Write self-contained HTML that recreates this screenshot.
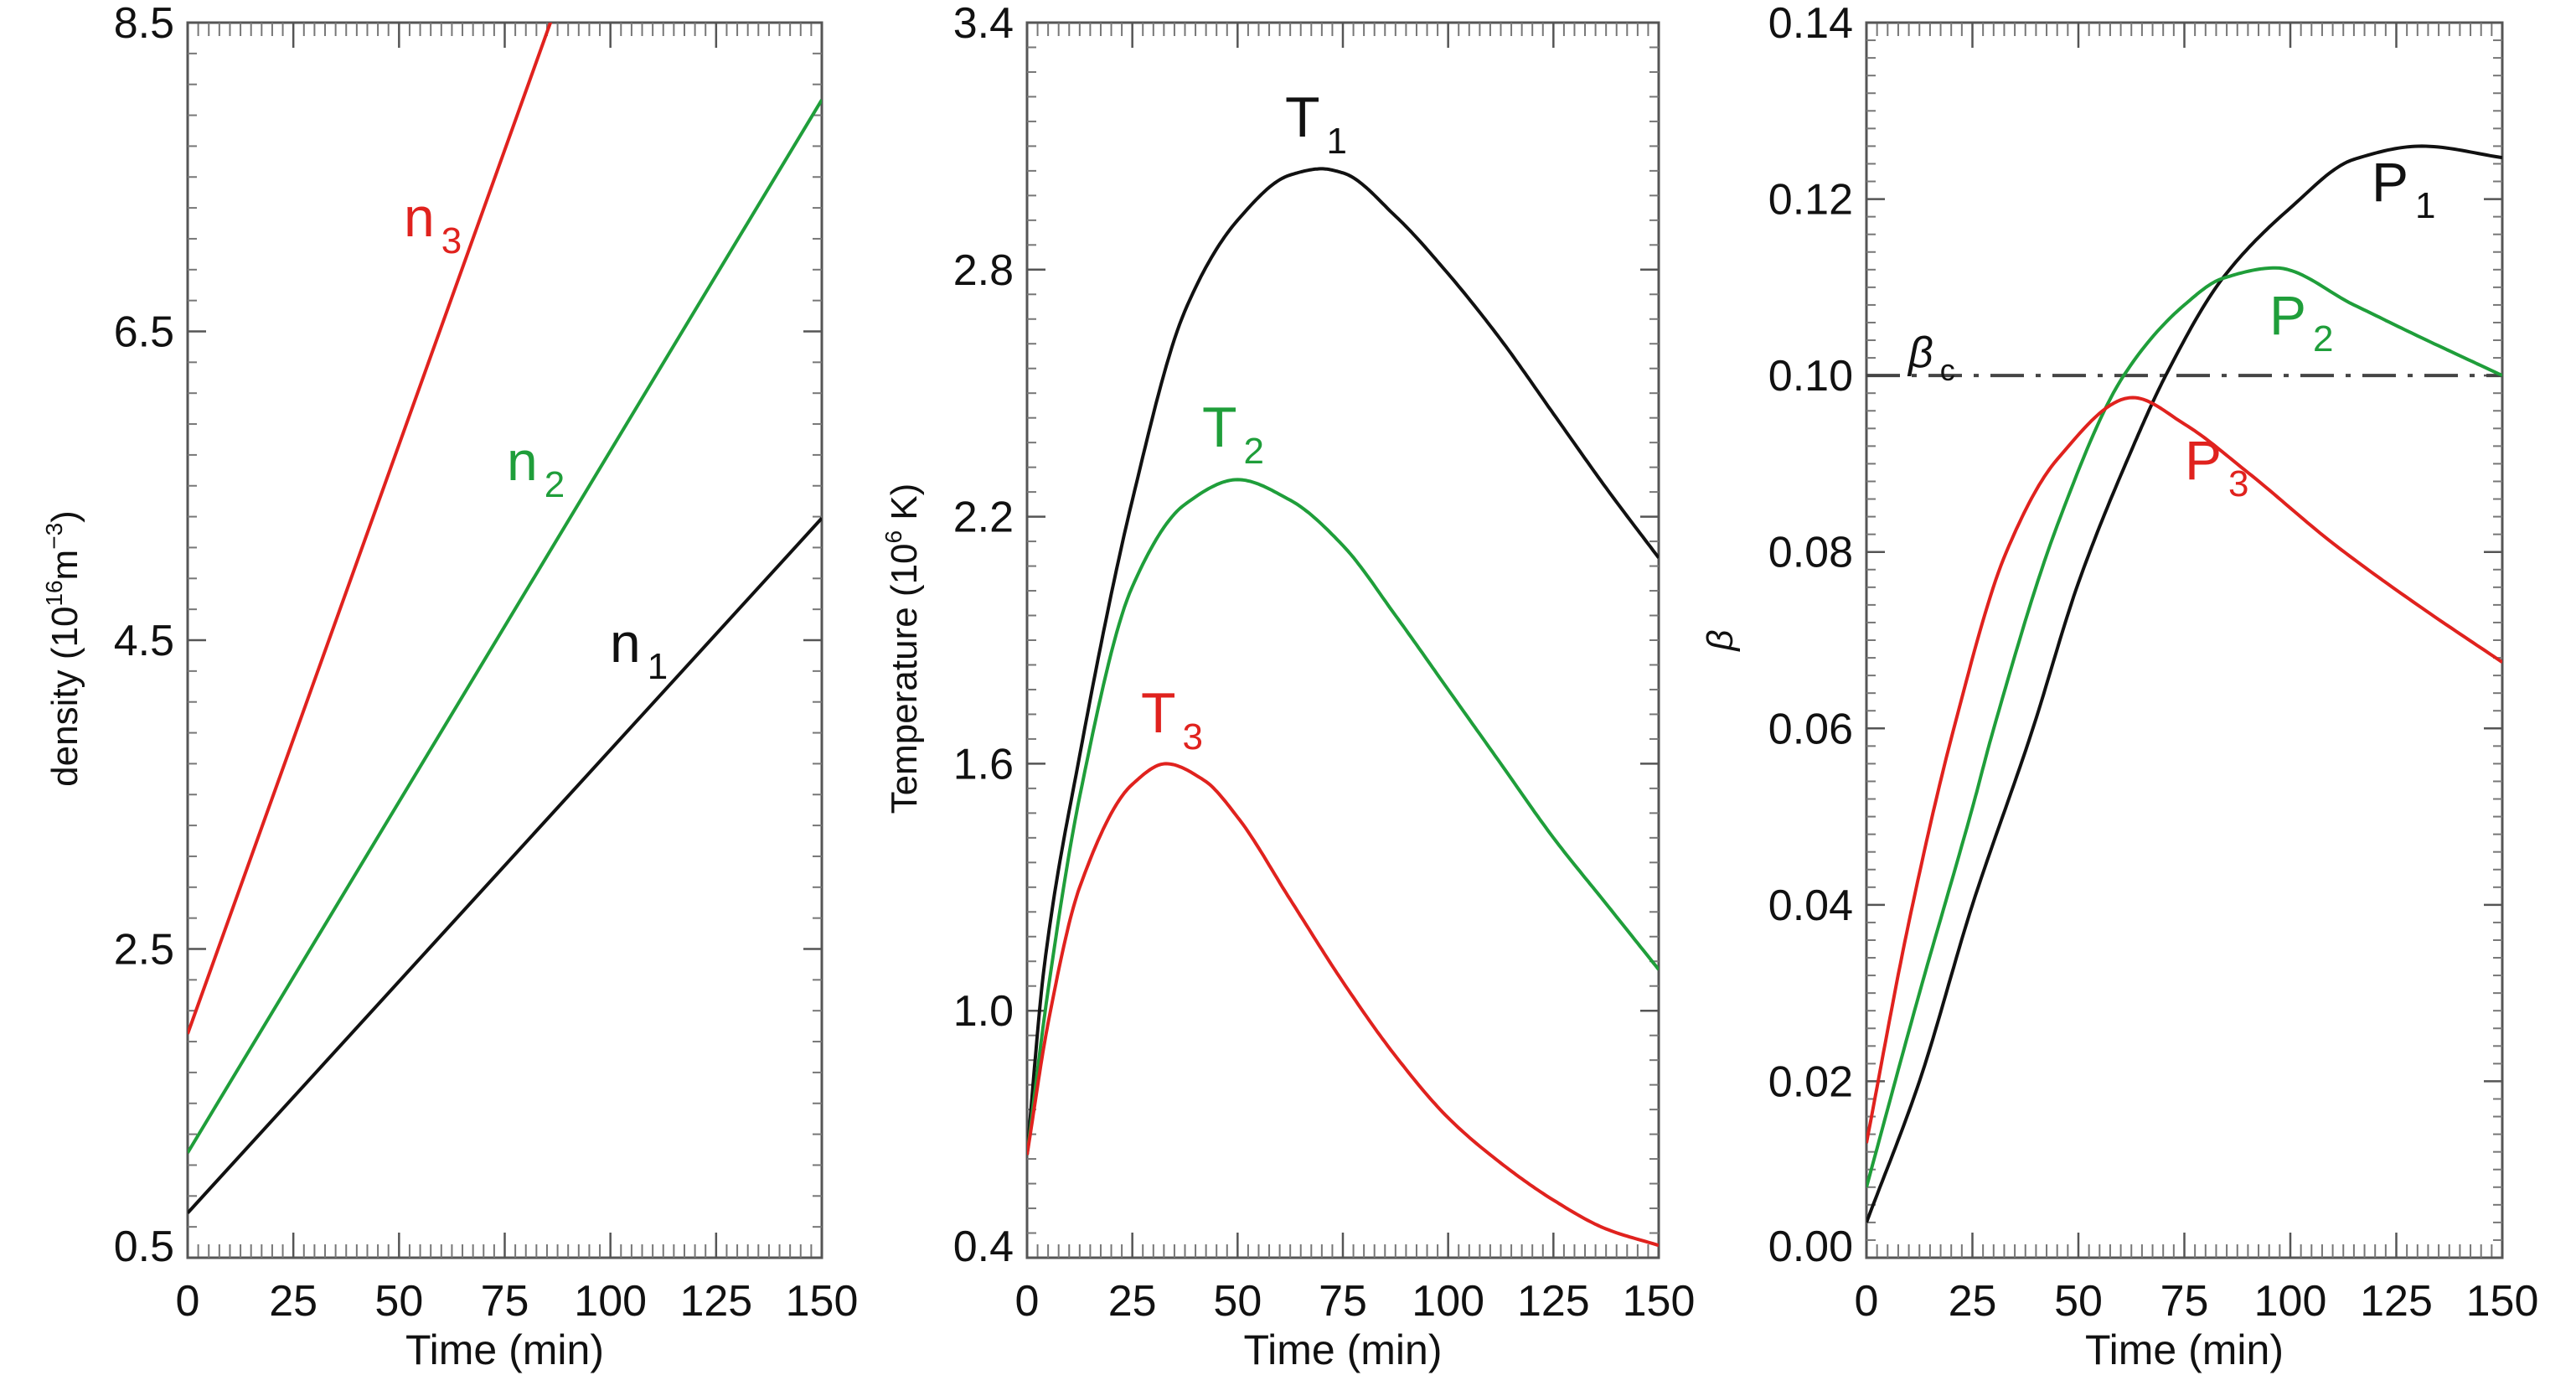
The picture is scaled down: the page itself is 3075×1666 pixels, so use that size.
<!DOCTYPE html>
<html><head><meta charset="utf-8">
<style>
html,body{margin:0;padding:0;background:#fff;}
svg{display:block;font-family:"Liberation Sans",sans-serif;}
</style></head>
<body>
<svg id="fig" width="3075" height="1666" viewBox="0 0 3075 1666" xmlns="http://www.w3.org/2000/svg">
<rect width="3075" height="1666" fill="#fff"/>
</svg>
<script>
// ---- shared x data ----
const xTicks = [0,25,50,75,100,125,150];
// ---- panel 1: density ----
const densTicks = [0.5,2.5,4.5,6.5,8.5];
const n1T = [0,150];
const n1V = [0.79,5.29];
const n2T = [0,150];
const n2V = [1.18,8.0];
const n3T = [0,150];
const n3V = [1.95,13.4];
// ---- panel 2: temperature ----
const tempTicks = [0.4,1.0,1.6,2.2,2.8,3.4];
const T1t = [0,4,12.5,25,37.5,50,62.5,70,75,87.5,100,112.5,125,137.5,150];
const T1v = [0.65,1.10,1.62,2.24,2.70,2.92,3.03,3.045,3.035,2.93,2.79,2.63,2.45,2.27,2.10];
const T2t = [0,5,12.5,25,37.5,50,62.5,75,87.5,100,112.5,125,137.5,150];
const T2v = [0.65,1.05,1.52,2.03,2.23,2.29,2.24,2.13,1.96,1.78,1.60,1.42,1.26,1.10];
const T3t = [0,5,12.5,25,33,42,50,62.5,75,87.5,100,112.5,125,137.5,150];
const T3v = [0.65,0.97,1.30,1.55,1.60,1.56,1.47,1.27,1.07,0.89,0.74,0.63,0.54,0.47,0.43];
// ---- panel 3: beta ----
const betaTicks = [0.00,0.02,0.04,0.06,0.08,0.10,0.12,0.14];
const betaC = 0.10;
const P1t = [0,12.5,25,39,50,62.5,70.6,84,100,115,131,150];
const P1v = [0.004,0.020,0.040,0.0596,0.0765,0.0915,0.100,0.111,0.119,0.1245,0.126,0.1247];
const P2t = [0,12.5,25,29.8,45,60.7,75,84,96.5,115,130,150];
const P2v = [0.008,0.030,0.051,0.0596,0.083,0.100,0.108,0.111,0.1122,0.108,0.1045,0.100];
const P3t = [0,10,20.4,33,45,62.8,75,90,110,130,150];
const P3v = [0.013,0.038,0.0596,0.080,0.0905,0.0975,0.0945,0.089,0.081,0.074,0.0675];

const NS="http://www.w3.org/2000/svg";
const svg=document.getElementById('fig');
function mk(tag,attrs,parent){const e=document.createElementNS(NS,tag);for(const k in attrs)e.setAttribute(k,attrs[k]);(parent||svg).appendChild(e);return e;}

const TOP=27,BOT=1501;
function makeAxis(L,R,ymin,ymax){
  return {L,R,x:t=>L+(t-0)/150*(R-L),y:v=>BOT-(v-ymin)/(ymax-ymin)*(BOT-TOP),ymin,ymax};
}
function monotonePts(ts,vs,ax){
  const n=ts.length;
  if(n<3) return ts.map((t,i)=>[ax.x(t),ax.y(vs[i])]);
  const d=[],m=new Array(n);
  for(let i=0;i<n-1;i++)d.push((vs[i+1]-vs[i])/(ts[i+1]-ts[i]));
  m[0]=d[0];m[n-1]=d[n-2];
  for(let i=1;i<n-1;i++){
    if(d[i-1]*d[i]<=0)m[i]=0;
    else{const w1=2*(ts[i+1]-ts[i])+(ts[i]-ts[i-1]),w2=(ts[i+1]-ts[i])+2*(ts[i]-ts[i-1]);m[i]=(w1+w2)/(w1/d[i-1]+w2/d[i]);}
  }
  const out=[];
  for(let i=0;i<n-1;i++){
    const h=ts[i+1]-ts[i];
    for(let k=0;k<20;k++){
      const s=k/20,s2=s*s,s3=s2*s;
      const v=(2*s3-3*s2+1)*vs[i]+(s3-2*s2+s)*h*m[i]+(-2*s3+3*s2)*vs[i+1]+(s3-s2)*h*m[i+1];
      out.push([ax.x(ts[i]+s*h),ax.y(v)]);
    }
  }
  out.push([ax.x(ts[n-1]),ax.y(vs[n-1])]);
  return out;
}
function drawPanel(id,ax,yt,fmt){
  const g=mk('g',{});
  
  
  const clip=mk('clipPath',{id:id+'-clip'},g);
  mk('rect',{x:ax.L,y:TOP,width:ax.R-ax.L,height:BOT-TOP},clip);
  const frame=mk('rect',{x:ax.L,y:TOP,width:ax.R-ax.L,height:BOT-TOP,fill:'none',stroke:'#555','stroke-width':3},g);
  
  
  for(let i=0;i<xTicks.length;i++){
    const x=ax.x(xTicks[i]);
    mk('line',{x1:x,x2:x,y1:BOT,y2:BOT-30,stroke:'#555','stroke-width':2.5},g);
    mk('line',{x1:x,x2:x,y1:TOP,y2:TOP+30,stroke:'#555','stroke-width':2.5},g);
    const tl=mk('text',{x:x,y:1570,'font-size':52,'text-anchor':'middle',fill:'#111'},g);
    tl.textContent=xTicks[i];
    
    
    if(i<xTicks.length-1){
      for(let k=1;k<10;k++){
        const xm=ax.x(xTicks[i]+k*(xTicks[i+1]-xTicks[i])/10);
        mk('line',{x1:xm,x2:xm,y1:BOT,y2:BOT-16,stroke:'#777','stroke-width':2},g);
        mk('line',{x1:xm,x2:xm,y1:TOP,y2:TOP+16,stroke:'#777','stroke-width':2},g);
      }
    }
  }
  for(let i=0;i<yt.length;i++){
    const y=ax.y(yt[i]);
    mk('line',{x1:ax.L,x2:ax.L+22,y1:y,y2:y,stroke:'#555','stroke-width':2.5},g);
    mk('line',{x1:ax.R,x2:ax.R-22,y1:y,y2:y,stroke:'#555','stroke-width':2.5},g);
    const ty = (i===0)? y+4 : y+18;
    const tl=mk('text',{x:ax.L-16,y:ty,'font-size':52,'text-anchor':'end',fill:'#111'},g);
    tl.textContent=fmt(yt[i]);
    
    
    if(i<yt.length-1){
      for(let k=1;k<10;k++){
        const ym=ax.y(yt[i]+k*(yt[i+1]-yt[i])/10);
        mk('line',{x1:ax.L,x2:ax.L+11,y1:ym,y2:ym,stroke:'#777','stroke-width':2},g);
        mk('line',{x1:ax.R,x2:ax.R-11,y1:ym,y2:ym,stroke:'#777','stroke-width':2},g);
      }
    }
  }
  const xt=mk('text',{x:(ax.L+ax.R)/2,y:1628,'font-size':50,'text-anchor':'middle',fill:'#111'},g);
  xt.textContent='Time (min)';
  
  
  return g;
}
function drawLine(g,ax,id,ts,vs,color){
  const pts=monotonePts(ts,vs,ax);
  return mk('polyline',{points:pts.map(p=>p[0].toFixed(1)+','+p[1].toFixed(1)).join(' '),fill:'none',stroke:color,'stroke-width':4,'stroke-linejoin':'round','clip-path':`url(#${id}-clip)`},g);
}
function label(g,x,y,main,sub,color,size,subsize,name,italic){
  const t=mk('text',{x:x,y:y,'font-size':size,fill:color},g);
  if(italic)t.setAttribute('font-style','italic');
  
  
  t.textContent=main;
  const s=mk('tspan',{dx:8,dy:subsize*0.45,'font-size':subsize,'font-style':'normal'},t);
  s.textContent=sub;
}
const RED='#e0221e',GREEN='#1f9e3a',BLACK='#111';

const a1=makeAxis(224,981,0.5,8.5);
const g1=drawPanel('density',a1,densTicks,v=>v.toFixed(1));
let p;
p=drawLine(g1,a1,'density',n1T,n1V,BLACK);

p=drawLine(g1,a1,'density',n2T,n2V,GREEN);

p=drawLine(g1,a1,'density',n3T,n3V,RED);

label(g1,482,282,'n','3',RED,66,44,'n3-label');
label(g1,605,573,'n','2',GREEN,66,44,'n2-label');
label(g1,728,790,'n','1',BLACK,66,44,'n1-label');
let yt1=mk('text',{transform:'translate(92,774) rotate(-90)','font-size':44,'text-anchor':'middle',fill:'#111'},g1);

yt1.innerHTML='density (10<tspan font-size="28" dy="-18">16</tspan><tspan dy="18">m</tspan><tspan font-size="28" dy="-18">−3</tspan><tspan dy="18">)</tspan>';

const a2=makeAxis(1226,1980,0.4,3.4);
const g2=drawPanel('temperature',a2,tempTicks,v=>v.toFixed(1));
p=drawLine(g2,a2,'temperature',T1t,T1v,BLACK);

p=drawLine(g2,a2,'temperature',T2t,T2v,GREEN);

p=drawLine(g2,a2,'temperature',T3t,T3v,RED);

label(g2,1534,163,'T','1',BLACK,68,44,'T1-label');
label(g2,1435,533,'T','2',GREEN,68,44,'T2-label');
label(g2,1362,874,'T','3',RED,68,44,'T3-label');
let yt2=mk('text',{transform:'translate(1094,774) rotate(-90)','font-size':44,'text-anchor':'middle',fill:'#111'},g2);

yt2.innerHTML='Temperature (10<tspan font-size="28" dy="-18">6</tspan><tspan dy="18"> K)</tspan>';

const a3=makeAxis(2228,2987,0,0.14);
const g3=drawPanel('beta',a3,betaTicks,v=>v.toFixed(2));
const bc=mk('line',{x1:a3.L,x2:a3.R,y1:a3.y(betaC),y2:a3.y(betaC),stroke:'#444','stroke-width':4,'stroke-dasharray':'40 14 6 14'},g3);

p=drawLine(g3,a3,'beta',P1t,P1v,BLACK);

p=drawLine(g3,a3,'beta',P2t,P2v,GREEN);

p=drawLine(g3,a3,'beta',P3t,P3v,RED);

label(g3,2831,240,'P','1',BLACK,66,44,'P1-label');
label(g3,2709,399,'P','2',GREEN,66,44,'P2-label');
label(g3,2608,572,'P','3',RED,66,44,'P3-label');
label(g3,2278,438,'β','c',BLACK,52,36,'beta-c-label',true);
let yt3=mk('text',{transform:'translate(2068,764) rotate(-90)','font-size':44,'text-anchor':'middle',fill:'#111','font-style':'italic'},g3);

yt3.textContent='β';
</script>
</body></html>
